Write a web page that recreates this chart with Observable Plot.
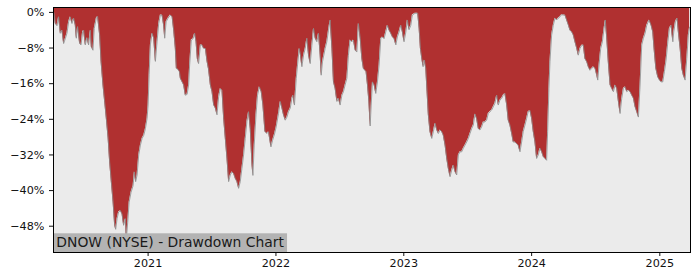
<!DOCTYPE html>
<html><head><meta charset="utf-8">
<script src="https://cdn.jsdelivr.net/npm/d3@7"></script>
<script src="https://cdn.jsdelivr.net/npm/@observablehq/plot@0.6"></script>
<style>
html,body{margin:0;padding:0;background:#fff;}
#chart{width:700px;height:280px;}
</style></head><body><div id="chart"></div>
<script>
// decimal years
const dates = [
2020.264,2020.268,2020.276,2020.289,2020.302,2020.315,2020.328,2020.341,2020.354,2020.367,2020.380,2020.393,2020.406,2020.419,2020.432,2020.440,2020.450,2020.466,2020.477,2020.489,2020.497,2020.510,2020.523,2020.536,2020.549,2020.557,2020.570,2020.580,2020.596,2020.606,2020.622,2020.633,2020.648,2020.661,2020.674,2020.688,2020.700,2020.713,2020.727,2020.739,2020.747,2020.758,2020.770,2020.784,2020.797,2020.809,2020.823,2020.830,2020.841,2020.852,2020.867,2020.883,2020.893,2020.903,2020.914,2020.927,2020.940,2020.953,2020.966,2020.979,2020.992,
2021.000,2021.008,2021.018,2021.031,2021.044,2021.057,2021.070,2021.083,2021.096,2021.109,2021.122,2021.130,2021.141,2021.156,2021.174,2021.188,2021.200,2021.213,2021.221,2021.234,2021.245,2021.252,2021.266,2021.278,2021.291,2021.305,2021.317,2021.325,2021.338,2021.352,2021.364,2021.375,2021.385,2021.395,2021.409,2021.422,2021.434,2021.448,2021.461,2021.473,2021.487,2021.500,2021.513,2021.526,2021.539,2021.552,2021.565,2021.578,2021.591,2021.604,2021.617,2021.630,2021.643,2021.656,2021.669,2021.682,2021.695,2021.708,2021.721,2021.734,2021.747,2021.760,2021.773,2021.786,2021.799,2021.813,2021.820,2021.830,2021.844,2021.856,2021.870,2021.885,2021.898,2021.914,2021.930,2021.942,2021.961,2021.973,2021.989,
2022.002,2022.020,2022.034,2022.047,2022.059,2022.073,2022.086,2022.098,2022.112,2022.125,2022.133,2022.145,2022.159,2022.169,2022.182,2022.190,2022.203,2022.216,2022.229,2022.242,2022.255,2022.268,2022.281,2022.294,2022.307,2022.320,2022.333,2022.346,2022.354,2022.364,2022.385,2022.398,2022.411,2022.424,2022.438,2022.450,2022.463,2022.477,2022.489,2022.502,2022.516,2022.528,2022.541,2022.555,2022.567,2022.580,2022.594,2022.606,2022.620,2022.633,2022.645,2022.659,2022.672,2022.684,2022.705,2022.716,2022.727,2022.737,2022.745,2022.755,2022.768,2022.781,2022.794,2022.807,2022.820,2022.833,2022.846,2022.859,2022.872,2022.885,2022.898,2022.911,2022.924,2022.938,2022.950,2022.963,2022.977,2022.989,
2023.002,2023.016,2023.028,2023.041,2023.055,2023.067,2023.088,2023.109,2023.120,2023.130,2023.141,2023.151,2023.161,2023.172,2023.182,2023.192,2023.205,2023.219,2023.231,2023.245,2023.258,2023.270,2023.284,2023.297,2023.309,2023.323,2023.336,2023.348,2023.362,2023.375,2023.388,2023.401,2023.414,2023.427,2023.440,2023.453,2023.466,2023.479,2023.492,2023.505,2023.518,2023.531,2023.544,2023.557,2023.570,2023.583,2023.596,2023.609,2023.622,2023.635,2023.648,2023.661,2023.674,2023.688,2023.700,2023.713,2023.727,2023.739,2023.752,2023.766,2023.778,2023.791,2023.805,2023.817,2023.830,2023.844,2023.856,2023.870,2023.883,2023.895,2023.909,2023.922,2023.934,2023.948,2023.961,2023.973,2023.987,
2024.000,2024.013,2024.026,2024.039,2024.052,2024.065,2024.078,2024.091,2024.104,2024.117,2024.125,2024.135,2024.143,2024.156,2024.169,2024.182,2024.195,2024.208,2024.221,2024.234,2024.247,2024.260,2024.273,2024.286,2024.299,2024.313,2024.325,2024.338,2024.352,2024.364,2024.377,2024.391,2024.403,2024.416,2024.430,2024.442,2024.455,2024.469,2024.481,2024.495,2024.508,2024.516,2024.526,2024.539,2024.552,2024.565,2024.575,2024.586,2024.598,2024.612,2024.625,2024.638,2024.651,2024.664,2024.677,2024.690,2024.703,2024.716,2024.729,2024.742,2024.755,2024.768,2024.781,2024.794,2024.807,2024.820,2024.833,2024.846,2024.859,2024.872,2024.885,2024.898,2024.916,2024.932,2024.945,2024.955,2024.969,2024.984,2024.997,
2025.010,2025.023,2025.036,2025.049,2025.063,2025.075,2025.088,2025.102,2025.109,2025.122,2025.135,2025.145,2025.159,2025.172,2025.184,2025.198,2025.211,2025.223,2025.233
];
// drawdown in percent
const drawdown = [
0,-0.6,-2.5,-3.0,-1.0,-4.7,-4.0,-7.0,-5.9,-4.7,-2.1,-1.0,-2.5,-1.3,-2.9,-5.8,-3.2,-7.0,-7.3,-4.4,-4.0,-7.3,-5.7,-7.3,-4.0,-7.7,-8.5,-3.6,-1.3,-0.9,-5.1,-11.0,-16.3,-20.0,-23.8,-28.2,-33.6,-38.0,-42.6,-47.8,-48.7,-46.3,-44.8,-44.5,-45.3,-47.8,-46.3,-51.0,-47.1,-42.6,-40.4,-38.9,-35.8,-38.0,-36.5,-32.0,-29.8,-28.3,-27.6,-26.1,-23.8,
-20.8,-14.0,-7.3,-4.7,-5.8,-11.0,-6.6,-2.5,-0.6,-0.6,-3.0,-5.8,-2.1,-1.3,-0.6,-1.0,-4.0,-8.1,-12.6,-12.8,-13.3,-14.8,-15.6,-16.3,-18.6,-18.4,-16.3,-11.8,-6.2,-5.9,-4.7,-6.6,-10.4,-11.5,-7.3,-7.3,-8.1,-8.1,-11.0,-12.8,-16.3,-17.8,-20.8,-21.5,-23.0,-18.9,-17.1,-17.5,-23.8,-28.3,-32.8,-38.0,-36.5,-35.8,-36.2,-37.3,-38.0,-39.5,-38.0,-35.0,-32.0,-28.3,-24.5,-22.3,-26.1,-34.3,-36.6,-29.8,-23.0,-18.6,-16.7,-17.8,-20.8,-26.8,-27.2,-26.8,-30.2,-28.8,-27.3,
-25.7,-22.7,-20.0,-21.5,-23.0,-24.2,-23.5,-22.3,-21.5,-19.3,-18.6,-20.8,-14.8,-11.8,-8.1,-9.2,-12.2,-9.6,-8.1,-5.8,-9.6,-11.5,-7.4,-3.6,-5.8,-6.6,-4.7,-9.6,-14.1,-11.1,-8.1,-6.6,-4.0,-1.7,-8.1,-15.6,-17.1,-20.0,-19.3,-20.8,-18.6,-17.8,-16.3,-14.8,-9.6,-6.2,-6.6,-6.2,-8.5,-8.9,-2.5,-5.8,-10.4,-12.6,-13.3,-16.3,-20.0,-25.5,-20.8,-15.6,-16.3,-18.2,-15.6,-11.8,-5.9,-5.5,-5.9,-4.4,-2.9,-4.0,-4.7,-5.5,-5.9,-7.3,-5.5,-4.4,-2.9,-4.4,
-6.6,-4.4,-1.7,-3.9,-2.9,-0.6,-0.2,-0.2,-3.6,-8.1,-10.4,-12.2,-10.7,-12.6,-17.8,-23.0,-26.8,-28.3,-26.8,-24.9,-26.4,-27.2,-26.4,-26.8,-27.6,-29.8,-32.8,-35.0,-36.9,-35.4,-34.3,-35.8,-36.5,-32.0,-31.3,-31.3,-30.5,-29.8,-29.1,-28.3,-27.2,-26.1,-25.3,-22.8,-23.9,-26.1,-26.4,-25.7,-24.6,-24.6,-24.2,-22.7,-22.3,-21.9,-21.2,-20.4,-18.6,-20.8,-19.7,-19.3,-18.6,-18.2,-20.8,-24.2,-25.3,-27.2,-29.1,-29.1,-29.5,-29.8,-31.3,-29.1,-26.8,-25.3,-23.8,-22.3,-22.0,
-23.8,-26.8,-29.1,-32.8,-32.0,-30.5,-31.3,-32.4,-32.8,-33.2,-26.8,-17.1,-11.1,-5.1,-2.9,-1.3,-1.7,-1.3,-1.0,-0.5,-0.6,-0.6,-1.7,-2.8,-4.0,-4.4,-5.1,-6.6,-8.1,-9.6,-8.1,-7.4,-7.3,-10.4,-11.1,-12.2,-13.0,-12.6,-12.2,-12.6,-14.1,-15.2,-11.8,-8.1,-6.6,-3.6,-1.7,-5.8,-11.1,-16.3,-17.1,-17.8,-16.3,-17.1,-20.0,-22.7,-19.3,-17.1,-16.7,-17.8,-17.5,-17.8,-18.6,-19.3,-21.2,-22.3,-23.5,-16.3,-7.3,-5.8,-4.7,-2.9,-1.7,-2.9,-4.4,-8.1,-12.6,-14.5,-15.2,
-15.6,-15.6,-13.3,-10.7,-6.6,-3.6,-2.9,-6.6,-4.4,-2.1,-1.3,-4.4,-8.1,-12.6,-14.1,-15.2,-10.4,-5.1,-3.3
];
const yTicks = [0, -8, -16, -24, -32, -40, -48];
const xTickYears = [2021, 2022, 2023, 2024, 2025];
const xRange = [2020.262, 2025.240];
const yRange = [-53.9, 1.1];
const title = "DNOW (NYSE) - Drawdown Chart";

function toDate(t) {
  const y = Math.floor(t);
  const s = Date.UTC(y, 0, 1), e = Date.UTC(y + 1, 0, 1);
  return new Date(s + (t - y) * (e - s));
}
const data = dates.map((t, i) => ({date: toDate(t), dd: drawdown[i]}));

const M = {left: 53, right: 10, top: 7, bottom: 28};
const chart = Plot.plot({
  width: 700, height: 280,
  marginLeft: M.left, marginRight: M.right, marginTop: M.top, marginBottom: M.bottom,
  style: {fontFamily: "DejaVu Sans", fontSize: "11.2px", color: "#111", background: "#fff"},
  x: {type: "utc", domain: xRange.map(toDate), ticks: xTickYears.map(toDate), tickFormat: d3.utcFormat("%Y"), tickSize: 4, tickPadding: 3, label: null},
  y: {domain: yRange, ticks: yTicks, tickFormat: d => (d < 0 ? "\u2212" : "") + Math.abs(d) + "%", tickSize: 4, tickPadding: 5, label: null},
  marks: [
    Plot.frame({fill: "#ebebeb"}),
    Plot.areaY(data, {x: "date", y1: "dd", y2: yRange[1], fill: "#b03030"}),
    Plot.lineY(data, {x: "date", y: "dd", stroke: "#8c8c8c", strokeWidth: 0.8}),
    Plot.frame({stroke: "#000", strokeWidth: 1})
  ]
});
document.getElementById("chart").appendChild(chart);

const svg = d3.select(chart.tagName.toLowerCase() === "svg" ? chart : chart.querySelector("svg"));
const g = svg.append("g").attr("text-anchor", "start");
const bottom = 280 - M.bottom;
const txt = g.append("text")
  .attr("x", M.left + 3.3).attr("y", bottom - 5.3)
  .attr("text-anchor", "start")
  .attr("font-family", "DejaVu Sans").attr("font-size", "13.9px")
  .attr("fill", "#1a1a1a").text(title);
const bb = txt.node().getBBox();
g.insert("rect", "text")
  .attr("x", M.left).attr("y", bottom - 18.7)
  .attr("width", bb.x + bb.width + 2.5 - M.left).attr("height", 18.7)
  .attr("fill", "#b3b3b3");
const frames = svg.selectAll('[aria-label="frame"]').nodes();
if (frames.length) d3.select(frames[frames.length - 1]).raise();
</script>
</body></html>
